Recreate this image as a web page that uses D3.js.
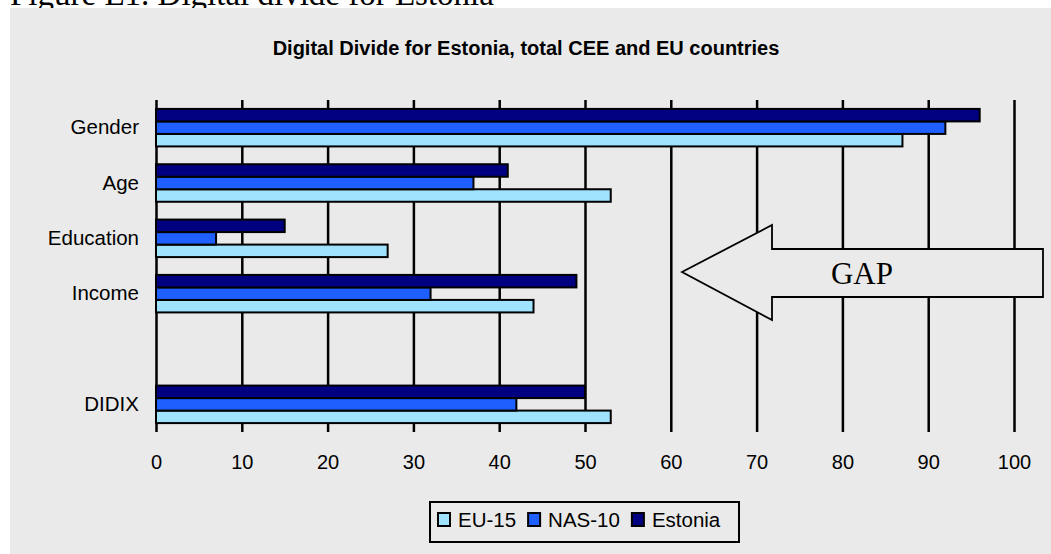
<!DOCTYPE html>
<html>
<head>
<meta charset="utf-8">
<script src="https://cdn.jsdelivr.net/npm/d3@7"></script>
<style>
  body { margin: 0; background: #fff; }
  svg { display: block; }
</style>
</head>
<body>
<div id="chart"></div>
<script>
  var categories = ["Gender", "Age", "Education", "Income", "", "DIDIX"];
  var seriesNames = ["EU-15", "NAS-10", "Estonia"];
  var eu15 = [87, 53, 27, 44, null, 53];
  var nas10 = [92, 37, 7, 32, null, 42];
  var estonia = [96, 41, 15, 49, null, 50];
  var xTicks = [0, 10, 20, 30, 40, 50, 60, 70, 80, 90, 100];

  var colors = {
    "EU-15": "#9fe3ff",
    "NAS-10": "#1f5fff",
    "Estonia": "#000080"
  };

  var W = 1051, H = 554;
  var bg = "#eaeaea";
  var font = "Arial, 'Liberation Sans', sans-serif";

  var svg = d3.select("#chart").append("svg")
    .attr("width", W)
    .attr("height", H);

  // caption above the chart, cut off by the top of the page
  svg.append("text")
    .attr("x", 10)
    .attr("y", 5)
    .style("font-family", "'Liberation Serif', 'Times New Roman', serif")
    .style("font-size", "33px")
    .text("Figure E1. Digital divide for Estonia");

  svg.append("rect")
    .attr("x", 10).attr("y", 8)
    .attr("width", W - 10).attr("height", H - 8)
    .attr("fill", bg);

  svg.append("text")
    .attr("x", 526)
    .attr("y", 55)
    .attr("text-anchor", "middle")
    .style("font-family", font)
    .style("font-weight", "bold")
    .style("font-size", "20px")
    .text("Digital Divide for Estonia, total CEE and EU countries");

  var plot = {left: 156, right: 1014, top: 100, bottom: 432};

  var x = d3.scaleLinear().domain([0, 100]).range([plot.left, plot.right]);
  var y = d3.scaleBand().domain(categories).range([plot.top, plot.bottom]);
  // top to bottom inside a group: Estonia, NAS-10, EU-15
  var inner = d3.scaleBand().domain(seriesNames.slice().reverse())
    .range([y.bandwidth() * 0.161, y.bandwidth() * 0.839]);

  // vertical gridlines + tick labels
  var xAxis = svg.append("g")
    .attr("transform", "translate(0," + plot.bottom + ")")
    .call(d3.axisBottom(x).tickValues(xTicks)
      .tickSize(-(plot.bottom - plot.top)).tickPadding(23));
  xAxis.select(".domain").remove();
  xAxis.selectAll("line").attr("stroke", "#000").attr("stroke-width", 2.5);
  xAxis.selectAll("text")
    .style("font-family", font).style("font-size", "20px").attr("fill", "#000");

  var yAxis = svg.append("g")
    .attr("transform", "translate(" + plot.left + ",0)")
    .call(d3.axisLeft(y).tickSize(0).tickPadding(17));
  yAxis.select(".domain").remove();
  yAxis.selectAll("text")
    .style("font-family", font).style("font-size", "20.5px").attr("fill", "#000");

  var rows = [];
  categories.forEach(function (c, i) {
    rows.push({cat: c, name: "EU-15", value: eu15[i]});
    rows.push({cat: c, name: "NAS-10", value: nas10[i]});
    rows.push({cat: c, name: "Estonia", value: estonia[i]});
  });

  svg.append("g").selectAll("rect")
    .data(rows.filter(function (d) { return d.value !== null; }))
    .enter().append("rect")
    .attr("x", x(0))
    .attr("y", function (d) { return y(d.cat) + inner(d.name); })
    .attr("width", function (d) { return x(d.value) - x(0); })
    .attr("height", inner.bandwidth())
    .attr("fill", function (d) { return colors[d.name]; })
    .attr("stroke", "#000")
    .attr("stroke-width", 2);

  // GAP arrow
  var arrow = d3.path();
  arrow.moveTo(682, 272);
  arrow.lineTo(772, 225);
  arrow.lineTo(772, 249);
  arrow.lineTo(1043, 249);
  arrow.lineTo(1043, 297);
  arrow.lineTo(772, 297);
  arrow.lineTo(772, 320);
  arrow.closePath();
  svg.append("path")
    .attr("d", arrow.toString())
    .attr("fill", bg)
    .attr("stroke", "#000")
    .attr("stroke-width", 1.8)
    .attr("stroke-linejoin", "miter");
  svg.append("text")
    .attr("x", 862)
    .attr("y", 284)
    .attr("text-anchor", "middle")
    .style("font-family", "'Liberation Serif', 'Times New Roman', serif")
    .style("font-size", "31px")
    .text("GAP");

  // legend
  var legend = svg.append("g");
  legend.append("rect")
    .attr("x", 430).attr("y", 502)
    .attr("width", 309).attr("height", 40)
    .attr("fill", "none")
    .attr("stroke", "#000")
    .attr("stroke-width", 2);

  var lx = 438;
  seriesNames.forEach(function (name) {
    legend.append("rect")
      .attr("x", lx).attr("y", 513)
      .attr("width", 12).attr("height", 13)
      .attr("fill", colors[name])
      .attr("stroke", "#000")
      .attr("stroke-width", 2);
    var t = legend.append("text")
      .attr("x", lx + 20)
      .attr("y", 527)
      .style("font-family", font)
      .style("font-size", "20.5px")
      .text(name);
    lx = lx + 20 + t.node().getComputedTextLength() + 12;
  });
</script>
</body>
</html>
